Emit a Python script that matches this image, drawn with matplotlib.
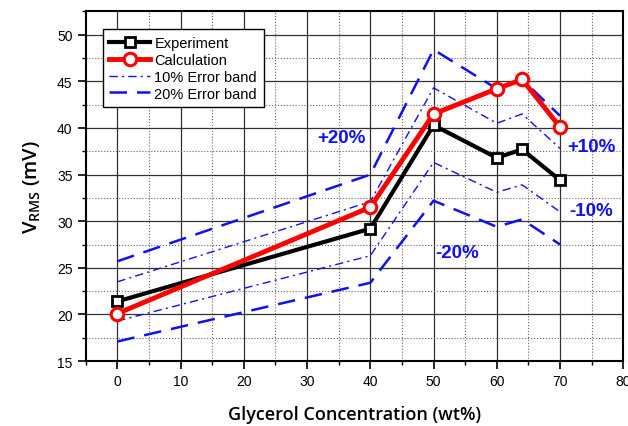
import matplotlib.pyplot as plt
from matplotlib.ticker import MultipleLocator

# glycerol concentration (wt%) vs RMS voltage
conc = [0, 40, 50, 60, 64, 70]
experiment = [21.4, 29.2, 40.3, 36.8, 37.7, 34.4]
calculation = [20.1, 31.5, 41.5, 44.2, 45.2, 40.1]

# error bands around the experiment
plus10 = [23.5, 32.1, 44.3, 40.5, 41.5, 37.8]
minus10 = [19.3, 26.3, 36.3, 33.1, 33.9, 31.0]
plus20 = [25.7, 35.0, 48.4, 44.2, 45.2, 41.3]
minus20 = [17.1, 23.4, 32.2, 29.4, 30.2, 27.5]

band_labels = ["+20%", "+10%", "-10%", "-20%"]
band_label_pos = [(35.4, 39.0), (75.0, 38.0), (74.9, 31.2), (53.7, 26.6)]

plt.rcParams['font.family'] = ['Liberation Sans', 'DejaVu Sans']

fig = plt.figure(figsize=(6.28, 4.27), dpi=100)
ax = fig.add_axes([0.1365, 0.152, 0.856, 0.819])

blue = '#1010f0'
ax.plot(conc, plus10, color=blue, lw=1.0, dashes=(6, 3, 1.5, 3), label='10% Error band')
ax.plot(conc, minus10, color=blue, lw=1.0, dashes=(6, 3, 1.5, 3))
ax.plot(conc, plus20, color=blue, lw=1.8, dashes=(7, 4), label='20% Error band')
ax.plot(conc, minus20, color=blue, lw=1.8, dashes=(7, 4))

ax.plot(conc, experiment, color='black', lw=3, marker='s', ms=7,
        mfc='white', mec='black', mew=2, label='Experiment', zorder=5)
ax.plot(conc, calculation, color='red', lw=3.5, marker='o', ms=9,
        mfc='white', mec='red', mew=2.2, label='Calculation', zorder=6)

for txt, (tx, ty) in zip(band_labels, band_label_pos):
    ax.text(tx, ty, txt, color=blue, fontsize=13.5, fontweight='bold',
            ha='center', va='center')

ax.set_xlim(-5, 80)
ax.set_ylim(15, 52.5)
ax.xaxis.set_major_locator(MultipleLocator(10))
ax.xaxis.set_minor_locator(MultipleLocator(5))
ax.yaxis.set_major_locator(MultipleLocator(5))
ax.yaxis.set_minor_locator(MultipleLocator(2.5))
ax.set_xticks([0, 10, 20, 30, 40, 50, 60, 70, 80])
ax.set_yticks([15, 20, 25, 30, 35, 40, 45, 50])

ax.grid(which='major', color='#333333', lw=0.9, ls='-')
ax.grid(which='minor', color='#666666', lw=0.8, ls=':')
ax.set_axisbelow(True)

ax.tick_params(which='major', direction='out', length=6, width=1.2, labelsize=10)
ax.tick_params(which='minor', direction='out', length=3, width=1)
for s in ax.spines.values():
    s.set_linewidth(1.5)

ax.set_xlabel('Glycerol Concentration (wt%)', family='Open Sans',
              fontweight='semibold', fontsize=13, labelpad=12)
ax.set_ylabel(r'V$_{\mathregular{RMS}}$ (mV)', family='Open Sans',
              fontweight='semibold', fontsize=14.5, labelpad=10)

handles, labels = ax.get_legend_handles_labels()
order = [2, 3, 0, 1]
leg = ax.legend([handles[i] for i in order], [labels[i] for i in order],
                loc='upper left', bbox_to_anchor=(0.0316, 0.949),
                borderaxespad=0, fontsize=10.5, fancybox=False, framealpha=1,
                edgecolor='black', handlelength=2.8, handletextpad=0.3,
                labelspacing=0.2, borderpad=0.45)
leg.get_frame().set_linewidth(1.0)

fig.savefig('out.png', dpi=100)
